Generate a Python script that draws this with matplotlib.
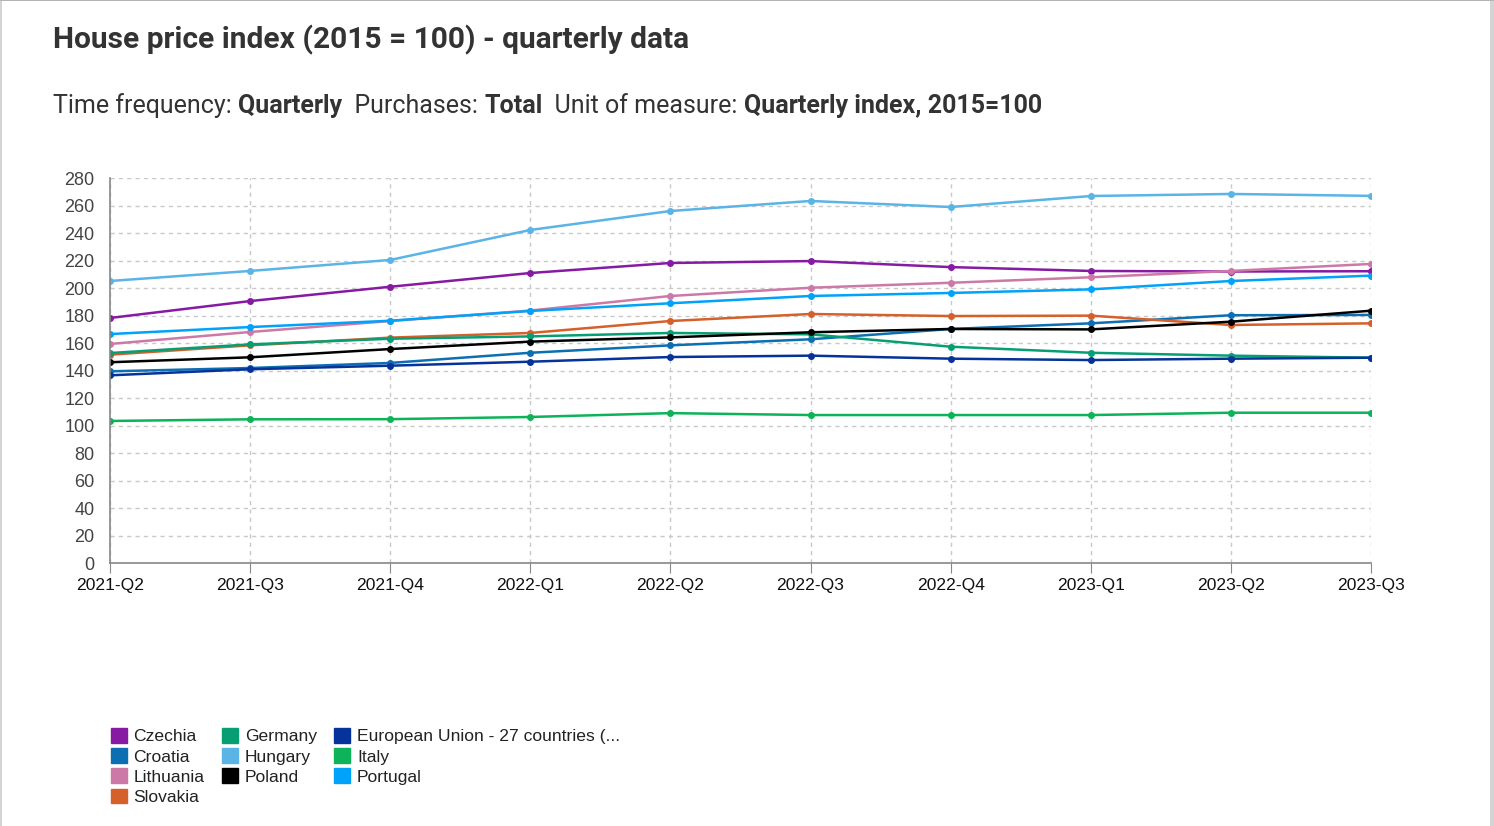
import numpy as np
import matplotlib.pyplot as plt
from matplotlib.patches import Rectangle

quarters = ['2021-Q2', '2021-Q3', '2021-Q4', '2022-Q1', '2022-Q2',
            '2022-Q3', '2022-Q4', '2023-Q1', '2023-Q2', '2023-Q3']

czechia = [178.2, 190.5, 200.9, 210.9, 218.2, 219.6, 215.2, 212.4, 212.0, 212.2]
croatia = [139.4, 141.8, 145.5, 152.9, 158.3, 162.7, 170.2, 174.3, 180.2, 180.4]
lithuania = [159.3, 168.0, 176.0, 183.6, 194.2, 200.2, 203.8, 207.8, 212.4, 217.5]
slovakia = [151.5, 158.3, 163.9, 167.3, 176.0, 181.1, 179.6, 179.9, 173.1, 174.3]
germany = [152.7, 159.0, 163.1, 164.8, 167.3, 166.3, 157.3, 152.9, 150.8, 149.3]
hungary = [205.1, 212.4, 220.4, 242.2, 256.0, 263.3, 258.9, 266.9, 268.4, 267.0]
poland = [146.0, 149.6, 155.6, 161.0, 164.1, 167.8, 170.2, 169.9, 175.5, 183.5]
eu27 = [136.5, 140.9, 143.5, 146.4, 149.8, 150.8, 148.6, 147.6, 148.6, 149.3]
italy = [103.3, 104.5, 104.6, 106.2, 109.0, 107.6, 107.6, 107.6, 109.3, 109.3]
portugal = [166.5, 171.6, 176.2, 183.3, 188.9, 194.2, 196.4, 199.0, 205.1, 209.0]

series = [
    ('Czechia', czechia, '#871aa3'),
    ('Croatia', croatia, '#0b6fb2'),
    ('Lithuania', lithuania, '#cc79a7'),
    ('Slovakia', slovakia, '#d5602a'),
    ('Germany', germany, '#089e73'),
    ('Hungary', hungary, '#5ab4e6'),
    ('Poland', poland, '#000000'),
    ('European Union - 27 countries (...', eu27, '#06339a'),
    ('Italy', italy, '#0db358'),
    ('Portugal', portugal, '#00a2fa'),
]

plt.rcParams['font.family'] = ['Liberation Sans', 'DejaVu Sans']

fig = plt.figure(figsize=(14.94, 8.26), dpi=100)
ax = fig.add_axes([0.0736, 0.3184, 0.8441, 0.4661])

x = np.arange(len(quarters))
for name, vals, col in series:
    ax.plot(x, vals, color=col, lw=1.8, marker='o', ms=4, label=name,
            solid_capstyle='round')

ax.set_xlim(0, len(quarters) - 1)
ax.set_ylim(0, 280)
ax.set_yticks(np.arange(0, 281, 20))
ax.set_xticks(x)
ax.set_xticklabels(quarters)
ax.grid(True, ls=(0, (3, 3)), color='#c8c8c8', lw=1)
ax.set_axisbelow(True)
for s in ['top', 'right']:
    ax.spines[s].set_visible(False)
for s in ['left', 'bottom']:
    ax.spines[s].set_color('#888888')
    ax.spines[s].set_linewidth(1.2)
ax.tick_params(axis='y', length=0, labelsize=13, labelcolor='#444444', pad=11)
ax.tick_params(axis='x', length=7, color='#888888', labelsize=12.6,
               labelcolor='#111111', pad=4)

handles, labels = ax.get_legend_handles_labels()
proxies = [Rectangle((0, 0), 1, 1, color=h.get_color()) for h in handles]
fig.legend(proxies, labels, ncol=3, loc='upper left',
           bbox_to_anchor=(0.0695, 0.127), frameon=False, fontsize=12.6,
           handlelength=0.9, handleheight=0.9, handletextpad=0.4,
           labelspacing=0.22, columnspacing=1.0, borderaxespad=0,
           labelcolor='#222222')

title_font = ['Liberation Sans Narrow', 'Roboto', 'DejaVu Sans']
fig.text(0.0355, 0.952, 'House price index (2015 = 100) - quarterly data',
         fontsize=21.5, fontweight='bold', color='#333333', va='center',
         family=title_font)

parts = [('Time frequency: ', 'normal'), ('Quarterly', 'bold'),
         ('  Purchases: ', 'normal'), ('Total', 'bold'),
         ('  Unit of measure: ', 'normal'), ('Quarterly index, 2015=100', 'bold')]
fig.canvas.draw()
renderer = fig.canvas.get_renderer()
xpos = 0.0355
for txt, wt in parts:
    t = fig.text(xpos, 0.872, txt, fontsize=18, fontweight=wt, color='#333333',
                 va='center', family=title_font)
    bb = t.get_window_extent(renderer=renderer)
    xpos += bb.width / fig.bbox.width

# frame edges
fig.add_artist(Rectangle((0, 0), 0.0015, 1, transform=fig.transFigure,
                         color='#d4d4d4', lw=0))
fig.add_artist(Rectangle((0.9975, 0), 0.0025, 1, transform=fig.transFigure,
                         color='#d4d4d4', lw=0))
fig.add_artist(Rectangle((0, 0.9985), 1, 0.0015, transform=fig.transFigure,
                         color='#b4b4b4', lw=0))

fig.savefig('out.png', dpi=100)
